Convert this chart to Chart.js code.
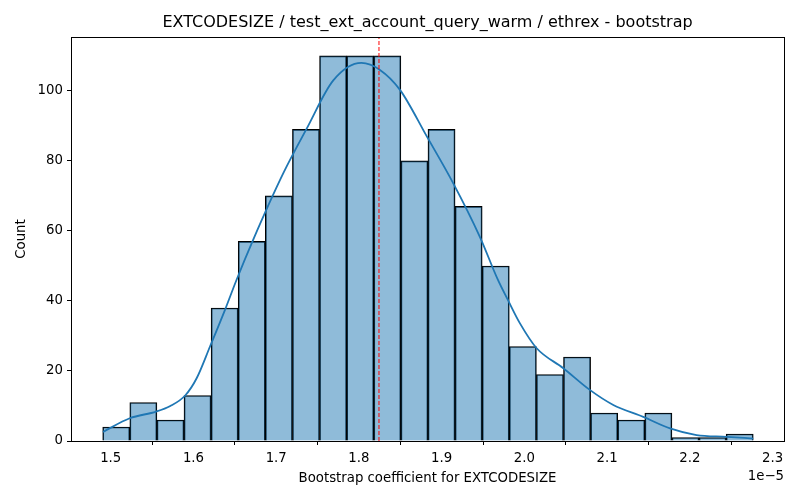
<!DOCTYPE html>
<html>
<head>
<meta charset="utf-8">
<script src="https://cdn.jsdelivr.net/npm/chart.js@4/dist/chart.umd.min.js"></script>
<style>
  html, body { margin: 0; padding: 0; background: #fff; }
  #wrap { width: 800px; height: 500px; }
</style>
</head>
<body>
<div id="wrap"><canvas id="c" width="800" height="500"></canvas></div>
<script>
// Values are in units of 1e-5 (the axis offset label)
const binLeft = 1.4903;
const binWidth = 0.03276;
const counts = [4, 11, 6, 13, 38, 57, 70, 89, 110, 110, 110, 80, 89, 67, 50, 27, 19, 24, 8, 6, 8, 1, 1, 2];
const kdeX = [1.4906, 1.523, 1.555, 1.572, 1.590, 1.604, 1.620, 1.638, 1.652, 1.672, 1.7086, 1.737, 1.769, 1.803, 1.8254, 1.8496, 1.882, 1.914, 1.946, 1.968, 1.980, 1.9946, 2.0148, 2.047, 2.079, 2.1074, 2.1436, 2.176, 2.208, 2.2444, 2.2766];
const kdeY = [2.6, 6.5, 8.4, 10, 13, 18, 27, 37.4, 46, 57.4, 76.5, 89.3, 103, 108, 106, 100.3, 87, 73.6, 58.4, 46, 40.3, 33.6, 26.5, 20.8, 14.6, 10.3, 6.9, 3.6, 1.7, 1.2, 0.7];
const meanValue = 1.8242;
const xTicks = [1.5, 1.6, 1.7, 1.8, 1.9, 2.0, 2.1, 2.2, 2.3];
const yTicks = [0, 20, 40, 60, 80, 100];
const titleText = 'EXTCODESIZE / test_ext_account_query_warm / ethrex - bootstrap';
const xLabel = 'Bootstrap coefficient for EXTCODESIZE';
const yLabel = 'Count';
const offsetLabel = '1e\u22125';

const FONT = 'DejaVu Sans';
const histData = counts.map((c, i) => ({ x: binLeft + binWidth * (i + 0.5), y: c }));
const kdeData = kdeX.map((x, i) => ({ x: x, y: kdeY[i] }));
const yMax = 115.4;
const meanData = [{ x: meanValue, y: 0 }, { x: meanValue, y: yMax }];

const framePlugin = {
  id: 'frame',
  afterDraw(chart) {
    const { ctx, chartArea: a } = chart;
    ctx.save();
    ctx.strokeStyle = '#000';
    ctx.lineWidth = 1;
    ctx.strokeRect(Math.round(a.left) + 0.5, Math.round(a.top) + 0.5, Math.round(a.right - a.left), Math.round(a.bottom - a.top));
    ctx.fillStyle = '#000';
    ctx.font = '13.3px "' + FONT + '"';
    ctx.textAlign = 'right';
    ctx.textBaseline = 'middle';
    ctx.fillText(offsetLabel, a.right, 477);
    ctx.font = '16px "' + FONT + '"';
    ctx.textAlign = 'center';
    ctx.fillText(titleText, (a.left + a.right) / 2, 23);
    ctx.restore();
  }
};

new Chart(document.getElementById('c'), {
  type: 'bar',
  data: {
    datasets: [
      {
        type: 'line',
        data: meanData,
        borderColor: '#ff0000',
        borderWidth: 1,
        borderDash: [4, 2],
        pointRadius: 0,
        order: 1
      },
      {
        type: 'line',
        data: kdeData,
        borderColor: '#1f77b4',
        borderWidth: 1.8,
        pointRadius: 0,
        cubicInterpolationMode: 'monotone',
        order: 2
      },
      {
        type: 'bar',
        data: histData,
        backgroundColor: 'rgba(31,119,180,0.5)',
        borderColor: '#000',
        borderWidth: 1,
        barPercentage: 1,
        categoryPercentage: 1,
        order: 3
      }
    ]
  },
  options: {
    responsive: false,
    animation: false,
    devicePixelRatio: 1,
    layout: { padding: { left: 0, right: 16, top: 37, bottom: 0 } },
    plugins: {
      legend: { display: false },
      tooltip: { enabled: false },
      title: { display: false }
    },
    scales: {
      x: {
        type: 'linear',
        offset: false,
        min: 1.452,
        max: 2.3137,
        afterBuildTicks: s => { s.ticks = xTicks.map(v => ({ value: v })); },
        afterFit: s => { s.height = 59; },
        grid: { display: true, drawOnChartArea: false, drawTicks: true, tickLength: 4, color: '#000' },
        border: { display: true, color: '#000', width: 1 },
        ticks: {
          color: '#000',
          padding: 6,
          maxRotation: 0,
          font: { family: FONT, size: 13.3 },
          callback: v => v.toFixed(1)
        },
        title: {
          display: true,
          text: xLabel,
          color: '#000',
          font: { family: FONT, size: 13.3, lineHeight: 1.2 },
          padding: { top: 0, bottom: 13 }
        }
      },
      y: {
        type: 'linear',
        min: 0,
        max: yMax,
        afterBuildTicks: s => { s.ticks = yTicks.map(v => ({ value: v })); },
        afterFit: s => { s.width = 71; },
        grid: { display: true, drawOnChartArea: false, drawTicks: true, tickLength: 4, color: '#000' },
        border: { display: true, color: '#000', width: 1 },
        ticks: {
          color: '#000',
          padding: 4,
          font: { family: FONT, size: 13.3 }
        },
        title: {
          display: true,
          text: yLabel,
          color: '#000',
          font: { family: FONT, size: 13.3, lineHeight: 1.2 },
          padding: { top: 14, bottom: 0 }
        }
      }
    }
  },
  plugins: [framePlugin]
});
</script>
</body>
</html>
